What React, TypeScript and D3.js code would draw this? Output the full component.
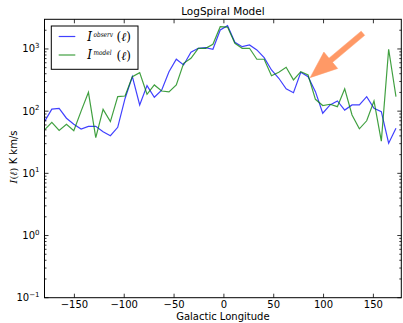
import React from "react";
import * as d3 from "d3";

// longitude grid (deg)
const longitude = [
  -180, -172.65, -165.31, -157.96, -150.61, -143.27, -135.92, -128.57, -121.22,
  -113.88, -106.53, -99.18, -91.84, -84.49, -77.14, -69.8, -62.45, -55.1, -47.76,
  -40.41, -33.06, -25.71, -18.37, -11.02, -3.67, 3.67, 11.02, 18.37, 25.71, 33.06,
  40.41, 47.76, 55.1, 62.45, 69.8, 77.14, 84.49, 91.84, 99.18, 106.53, 113.88,
  121.22, 128.57, 135.92, 143.27, 150.61, 157.96, 165.31, 172.65,
];

const observed = [
  67.8, 108, 111, 77, 61.5, 51.7, 57, 57, 46.8, 40.3, 55, 160, 359,
  126, 257, 167, 217, 431, 683, 553, 885, 1026, 1050, 989, 2018, 2370,
  1282, 1089, 1160, 964, 725, 459, 338, 228, 198, 422, 359, 206,
  92.5, 126, 146, 104, 126, 126, 171, 111, 98, 30.5, 53,
];

const model = [
  50, 66, 49, 61.5, 48.6, 100, 201, 37.5, 107, 68, 171, 175, 359,
  416, 187, 264, 211, 204, 264, 589, 708, 1026, 1026, 1190, 2285, 2250,
  1236, 1026, 1026, 683, 683, 372, 422, 508, 318, 431, 382, 155,
  123, 129, 118, 228, 87, 52, 70, 146, 33, 990, 171,
];

const xTicks = [-150, -100, -50, 0, 50, 100, 150];
const yDecades = [-1, 0, 1, 2, 3];

// annotation arrow, in data coords
const arrowTip = [86.5, 346];
const arrowTail = [139.5, 1790];

const W = 403;
const H = 323;
const left = 44.5;
const right = 401.3;
const top = 19.3;
const bottom = 297.7;

const sans = "DejaVu Sans, sans-serif";
const serif = "DejaVu Serif, serif";

export default function App() {
  const x = d3.scaleLinear().domain([-180, 178]).range([left, right]);
  const y = d3.scaleLog().domain([0.1, 3000]).range([bottom, top]);

  const line = (vals: number[]) =>
    d3
      .line<number>()
      .x((_, i) => x(longitude[i]))
      .y((d) => y(d))(vals) || "";

  // minor ticks on the log axis
  const minor: number[] = [];
  [-1, 0, 1, 2, 3].forEach((e) => {
    for (let m = 2; m <= 9; m++) {
      const v = m * Math.pow(10, e);
      if (v < 3000) minor.push(v);
    }
  });

  // arrow polygon
  const tx = x(arrowTip[0]), ty = y(arrowTip[1]);
  const sx = x(arrowTail[0]), sy = y(arrowTail[1]);
  const len = Math.hypot(tx - sx, ty - sy);
  const ux = (tx - sx) / len, uy = (ty - sy) / len;
  const px = -uy, py = ux;
  const headLen = 27, headW = 21.5, shaftW = 5.5;
  const bx = tx - ux * headLen, by = ty - uy * headLen;
  const arrowPts = [
    [sx + px * shaftW / 2, sy + py * shaftW / 2],
    [bx + px * shaftW / 2, by + py * shaftW / 2],
    [bx + px * headW / 2, by + py * headW / 2],
    [tx, ty],
    [bx - px * headW / 2, by - py * headW / 2],
    [bx - px * shaftW / 2, by - py * shaftW / 2],
    [sx - px * shaftW / 2, sy - py * shaftW / 2],
  ]
    .map((p) => p.join(","))
    .join(" ");

  return (
    <svg
      width={W}
      height={H}
      style={{ position: "absolute", left: 0, top: 0, background: "#fff" }}
    >
      <defs>
        <clipPath id="plot">
          <rect x={left} y={top} width={right - left} height={bottom - top} />
        </clipPath>
      </defs>

      <text x={(left + right) / 2} y={15} textAnchor="middle" fontFamily={sans} fontSize={10.5}>
        LogSpiral Model
      </text>

      <g clipPath="url(#plot)" fill="none" strokeWidth={1.2}>
        <path d={line(observed)} stroke="#0000ff" strokeOpacity={0.75} />
        <path d={line(model)} stroke="#008000" strokeOpacity={0.75} />
      </g>

      {/* ticks on all four sides, pointing in */}
      <g stroke="#000" strokeWidth={0.8}>
        {xTicks.map((t) => (
          <g key={t}>
            <line x1={x(t)} x2={x(t)} y1={bottom} y2={bottom - 4} />
            <line x1={x(t)} x2={x(t)} y1={top} y2={top + 4} />
          </g>
        ))}
        {yDecades.map((e) => {
          const yy = y(Math.pow(10, e));
          return (
            <g key={e}>
              <line x1={left} x2={left + 4} y1={yy} y2={yy} />
              <line x1={right} x2={right - 4} y1={yy} y2={yy} />
            </g>
          );
        })}
        {minor.map((v) => (
          <g key={v}>
            <line x1={left} x2={left + 2} y1={y(v)} y2={y(v)} />
            <line x1={right} x2={right - 2} y1={y(v)} y2={y(v)} />
          </g>
        ))}
      </g>

      <rect
        x={left}
        y={top}
        width={right - left}
        height={bottom - top}
        fill="none"
        stroke="#000"
        strokeWidth={1}
      />

      {xTicks.map((t) => (
        <text key={t} x={x(t)} y={308} textAnchor="middle" fontFamily={sans} fontSize={10}>
          {t < 0 ? "\u2212" + Math.abs(t) : t}
        </text>
      ))}
      <text x={(left + right) / 2} y={320} textAnchor="middle" fontFamily={sans} fontSize={10}>
        Galactic Longitude
      </text>

      {yDecades.map((e) => (
        <text key={e} x={39.5} y={y(Math.pow(10, e)) + 3.5} textAnchor="end" fontFamily={sans} fontSize={10}>
          10
          <tspan fontSize={7} dy={-4.5}>
            {e < 0 ? "\u2212" + Math.abs(e) : e}
          </tspan>
        </text>
      ))}

      <text transform="translate(17,157) rotate(-90)" textAnchor="middle" fontSize={10}>
        <tspan fontFamily={serif} fontStyle="italic">I</tspan>
        <tspan fontFamily={serif}>(</tspan>
        <tspan fontFamily={serif} fontStyle="italic">ℓ</tspan>
        <tspan fontFamily={serif}>)</tspan>
        <tspan fontFamily={sans}> K km/s</tspan>
      </text>

      {/* legend */}
      <rect x={51.3} y={26} width={86.7} height={43.3} fill="#fff" stroke="#000" strokeWidth={1} />
      {[
        { sup: "observ", color: "#0000ff", yy: 36.5, w: 19.5 },
        { sup: "model", color: "#008000", yy: 55, w: 18 },
      ].map((r) => (
        <g key={r.sup}>
          <line x1={58.7} x2={75.3} y1={r.yy} y2={r.yy} stroke={r.color} strokeOpacity={0.75} strokeWidth={1.2} />
          <text x={87.3} y={r.yy + 4} fontFamily={serif} fontSize={12} fontStyle="italic">
            I
          </text>
          <text
            x={93.5}
            y={r.yy}
            fontFamily={serif}
            fontSize={7}
            fontStyle="italic"
            textLength={r.w}
            lengthAdjust="spacingAndGlyphs"
          >
            {r.sup}
          </text>
          <text x={116.5} y={r.yy + 4.5} fontFamily={serif} fontSize={12}>
            (<tspan fontStyle="italic">ℓ</tspan>)
          </text>
        </g>
      ))}

      <polygon points={arrowPts} fill="#ff9966" stroke="#ff9966" strokeWidth={0.5} />
    </svg>
  );
}
